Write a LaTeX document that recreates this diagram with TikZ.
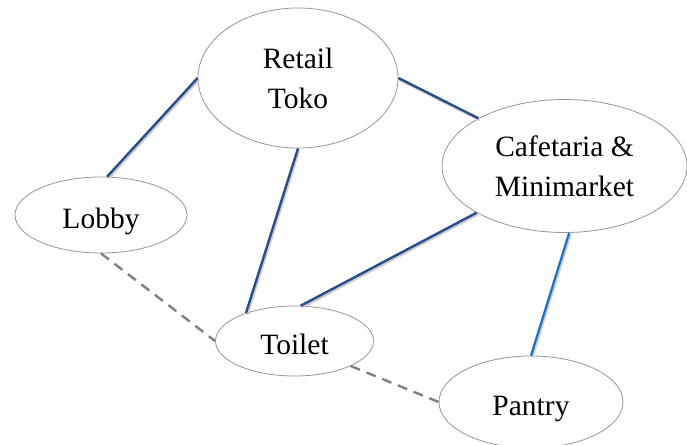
\documentclass[tikz,border=0pt]{standalone}
\usepackage{fontspec}
\setmainfont{Liberation Serif}
\usetikzlibrary{shapes.geometric}
\definecolor{darkblue}{RGB}{40,78,138}
\definecolor{lightblue}{RGB}{20,115,200}
\definecolor{edgegray}{RGB}{150,150,150}
\definecolor{dashgray}{RGB}{128,128,128}
\tikzset{
  room/.style={draw=edgegray, line width=0.8pt, ellipse, fill=white, inner sep=0pt,
    align=center, font=\fontsize{29.5}{40}\selectfont},
  oneline/.style={text height=28pt, text depth=2pt},
  shadowed/.style={preaction={draw=black!20, line width=2.6pt, transform canvas={shift={(1.2pt,-1.6pt)}}}},
  solidlink/.style={draw=darkblue, line width=2.4pt, shadowed},
  lightlink/.style={draw=lightblue, line width=2.2pt, shadowed},
  dashlink/.style={draw=dashgray, line width=2.4pt, dash pattern=on 10pt off 7pt}
}
\begin{document}
\begin{tikzpicture}[x=1pt,y=-1pt]
\useasboundingbox (0,0) rectangle (687,444);
\node[room, minimum width=200pt, minimum height=140pt] (retail) at (298,78) {Retail\\Toko};
\node[room, minimum width=245pt, minimum height=133pt] (cafe) at (564.5,166) {Cafetaria \&\\Minimarket};
\node[room, oneline, minimum width=172pt, minimum height=76pt] (lobby) at (101,215) {Lobby};
\node[room, oneline, minimum width=158pt, minimum height=70pt] (toilet) at (294.5,341) {Toilet};
\node[room, oneline, minimum width=184pt, minimum height=92pt] (pantry) at (531,402) {Pantry};
\draw[solidlink] (lobby.81) -- (retail.west);
\draw[solidlink] (retail.south) -- (toilet.150);
\draw[solidlink] (retail.east) -- (cafe.151);
\draw[solidlink] (cafe.208) -- (toilet.80);
\draw[lightlink] (cafe.274) -- (pantry.north);
\draw[dashlink] (lobby.south) -- (toilet.west);
\draw[dashlink] (toilet.336) -- (pantry.west);
\end{tikzpicture}
\end{document}
